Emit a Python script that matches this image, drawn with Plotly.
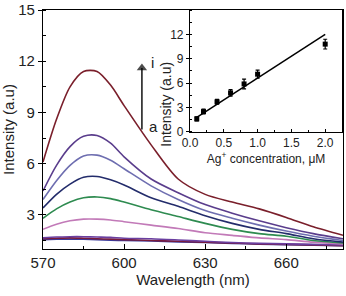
import plotly.graph_objects as go

# ---- main spectra data ----
wavelength = [570, 575, 580, 585, 590, 595, 600, 610, 620, 630, 640, 650, 660, 670, 681]
curve_i = [6.1, 8.6, 10.5, 11.4, 11.4, 10.6, 9.4, 7.1, 5.1, 4.2, 3.75, 3.35, 2.85, 2.3, 1.8]
curve_h = [4.4, 5.9, 7.0, 7.6, 7.65, 7.2, 6.4, 5.1, 4.3, 3.6, 3.1, 2.65, 2.25, 1.9, 1.6]
curve_g = [3.9, 5.0, 5.9, 6.45, 6.5, 6.2, 5.7, 4.7, 3.9, 3.25, 2.8, 2.4, 2.05, 1.75, 1.5]
curve_f = [3.4, 4.2, 4.8, 5.2, 5.25, 5.05, 4.75, 4.0, 3.5, 2.95, 2.5, 2.15, 1.9, 1.6, 1.4]
curve_e = [2.8, 3.35, 3.75, 4.0, 4.05, 3.95, 3.75, 3.3, 2.9, 2.5, 2.15, 1.9, 1.75, 1.5, 1.35]
curve_d = [2.15, 2.45, 2.65, 2.75, 2.75, 2.7, 2.6, 2.4, 2.2, 1.95, 1.8, 1.65, 1.55, 1.4, 1.3]
curve_c = [1.65, 1.7, 1.72, 1.72, 1.7, 1.68, 1.63, 1.6, 1.53, 1.45, 1.38, 1.33, 1.3, 1.27, 1.23]
curve_b = [1.6, 1.63, 1.65, 1.63, 1.6, 1.58, 1.55, 1.5, 1.45, 1.4, 1.35, 1.3, 1.27, 1.24, 1.2]
curve_a = [1.55, 1.57, 1.58, 1.57, 1.55, 1.52, 1.5, 1.47, 1.42, 1.38, 1.33, 1.28, 1.25, 1.22, 1.2]

curves = [curve_a, curve_b, curve_c, curve_d, curve_e, curve_f, curve_g, curve_h, curve_i]
curve_colors = ["#3b3a9a", "#7a1a3a", "#6a3fa0", "#c27ab8", "#2e8b50",
                "#232c6b", "#6e6eb0", "#5a3d8c", "#7a1f2b"]

# ---- inset data ----
ag_conc = [0.1, 0.2, 0.4, 0.6, 0.8, 1.0, 2.0]
ag_intensity = [1.6, 2.5, 3.7, 4.8, 5.9, 7.1, 10.8]
ag_error = [0.25, 0.3, 0.3, 0.4, 0.6, 0.5, 0.6]
fit_x = [0.1, 2.0]
fit_y = [1.8, 12.0]

# ---- tick values ----
main_xticks = [570, 600, 630, 660]
main_yticks = [3, 6, 9, 12, 15]
inset_xticks = [0.0, 0.5, 1.0, 1.5, 2.0]
inset_yticks = [0, 3, 6, 9, 12]

# arrow position (wavelength, intensity)
arrow_x = [606.6, 606.6]
arrow_y = [8.0, 11.6]

FONT = "Liberation Sans, Arial, sans-serif"
TXT = "#222"
fig = go.Figure()

for ys, col in zip(curves, curve_colors):
    fig.add_trace(go.Scatter(x=wavelength, y=ys, mode="lines",
                             line=dict(color=col, width=1.6, shape="spline", smoothing=0.8),
                             xaxis="x", yaxis="y", showlegend=False, hoverinfo="skip"))

# a -> i arrow
fig.add_trace(go.Scatter(x=arrow_x, y=arrow_y, mode="lines+markers",
                         line=dict(color="black", width=1.4),
                         marker=dict(symbol=["circle", "triangle-up"], size=[0, 9], color="black",
                                     line=dict(width=0)),
                         xaxis="x", yaxis="y", showlegend=False, hoverinfo="skip"))

fig.add_trace(go.Scatter(x=fit_x, y=fit_y, mode="lines", line=dict(color="black", width=1.5),
                         xaxis="x2", yaxis="y2", showlegend=False))
fig.add_trace(go.Scatter(x=ag_conc, y=ag_intensity, mode="markers",
                         marker=dict(symbol="square", color="black", size=5),
                         error_y=dict(type="data", array=ag_error, color="black", thickness=1.2, width=2),
                         xaxis="x2", yaxis="y2", showlegend=False))

axis_common = dict(showline=True, linecolor="black", linewidth=1.2, mirror=True,
                   showgrid=False, zeroline=False, tickcolor="black", automargin=False)

fig.update_layout(
    width=346, height=296,
    margin=dict(l=43, r=3, t=10, b=47),
    paper_bgcolor="white", plot_bgcolor="white",
    font=dict(family=FONT, color=TXT),
    showlegend=False,
    xaxis=dict(**axis_common, range=[570, 681], tickvals=main_xticks,
               ticks="inside", ticklen=5, tickwidth=1.2,
               minor=dict(dtick=15, tick0=570, ticks="inside", ticklen=3, tickcolor="black"),
               tickfont=dict(size=15, family=FONT, color=TXT),
               title=dict(text="Wavelength (nm)", font=dict(size=15, family=FONT, color=TXT), standoff=2),
               domain=[0, 1]),
    yaxis=dict(**axis_common, range=[1, 15], tickvals=main_yticks,
               ticks="outside", ticklen=4, tickwidth=1.2,
               minor=dict(dtick=1.5, tick0=0, ticks="inside", ticklen=3, tickcolor="black"),
               tickfont=dict(size=15, family=FONT, color=TXT),
               title=dict(text="Intensity (a.u)", font=dict(size=15, family=FONT, color=TXT), standoff=2),
               domain=[0, 1]),
    xaxis2=dict(**axis_common, range=[0, 2.25], tickvals=inset_xticks, tickformat=".1f",
                ticks="inside", ticklen=3, tickwidth=1,
                minor=dict(dtick=0.25, tick0=0, ticks="inside", ticklen=2, tickcolor="black"),
                tickfont=dict(size=12, family=FONT, color=TXT),
                title=dict(text="Ag<sup>+</sup> concentration, μM", font=dict(size=12, family=FONT, color=TXT), standoff=0),
                domain=[0.49, 0.997], anchor="y2"),
    yaxis2=dict(**axis_common, range=[0, 15], tickvals=inset_yticks,
                ticks="outside", ticklen=3, tickwidth=1,
                minor=dict(dtick=1.5, tick0=0, ticks="inside", ticklen=2, tickcolor="black"),
                tickfont=dict(size=12, family=FONT, color=TXT),
                domain=[0.49, 1.0], anchor="x2"),
)

# inset y title placed as rotated annotation
fig.add_annotation(x=0.41, y=0.79, xref="paper", yref="paper", text="Intensity (a.u)",
                   textangle=-90, showarrow=False, font=dict(size=14, family=FONT, color=TXT))
fig.add_annotation(x=610.5, y=11.9, xref="x", yref="y", text="i", showarrow=False,
                   font=dict(size=15, family=FONT, color=TXT))
fig.add_annotation(x=610.8, y=8.2, xref="x", yref="y", text="a", showarrow=False,
                   font=dict(size=15, family=FONT, color=TXT))

fig.write_html("out.html", config={"displayModeBar": False},
               post_script="document.body.style.margin='0';document.body.style.padding='0';")
